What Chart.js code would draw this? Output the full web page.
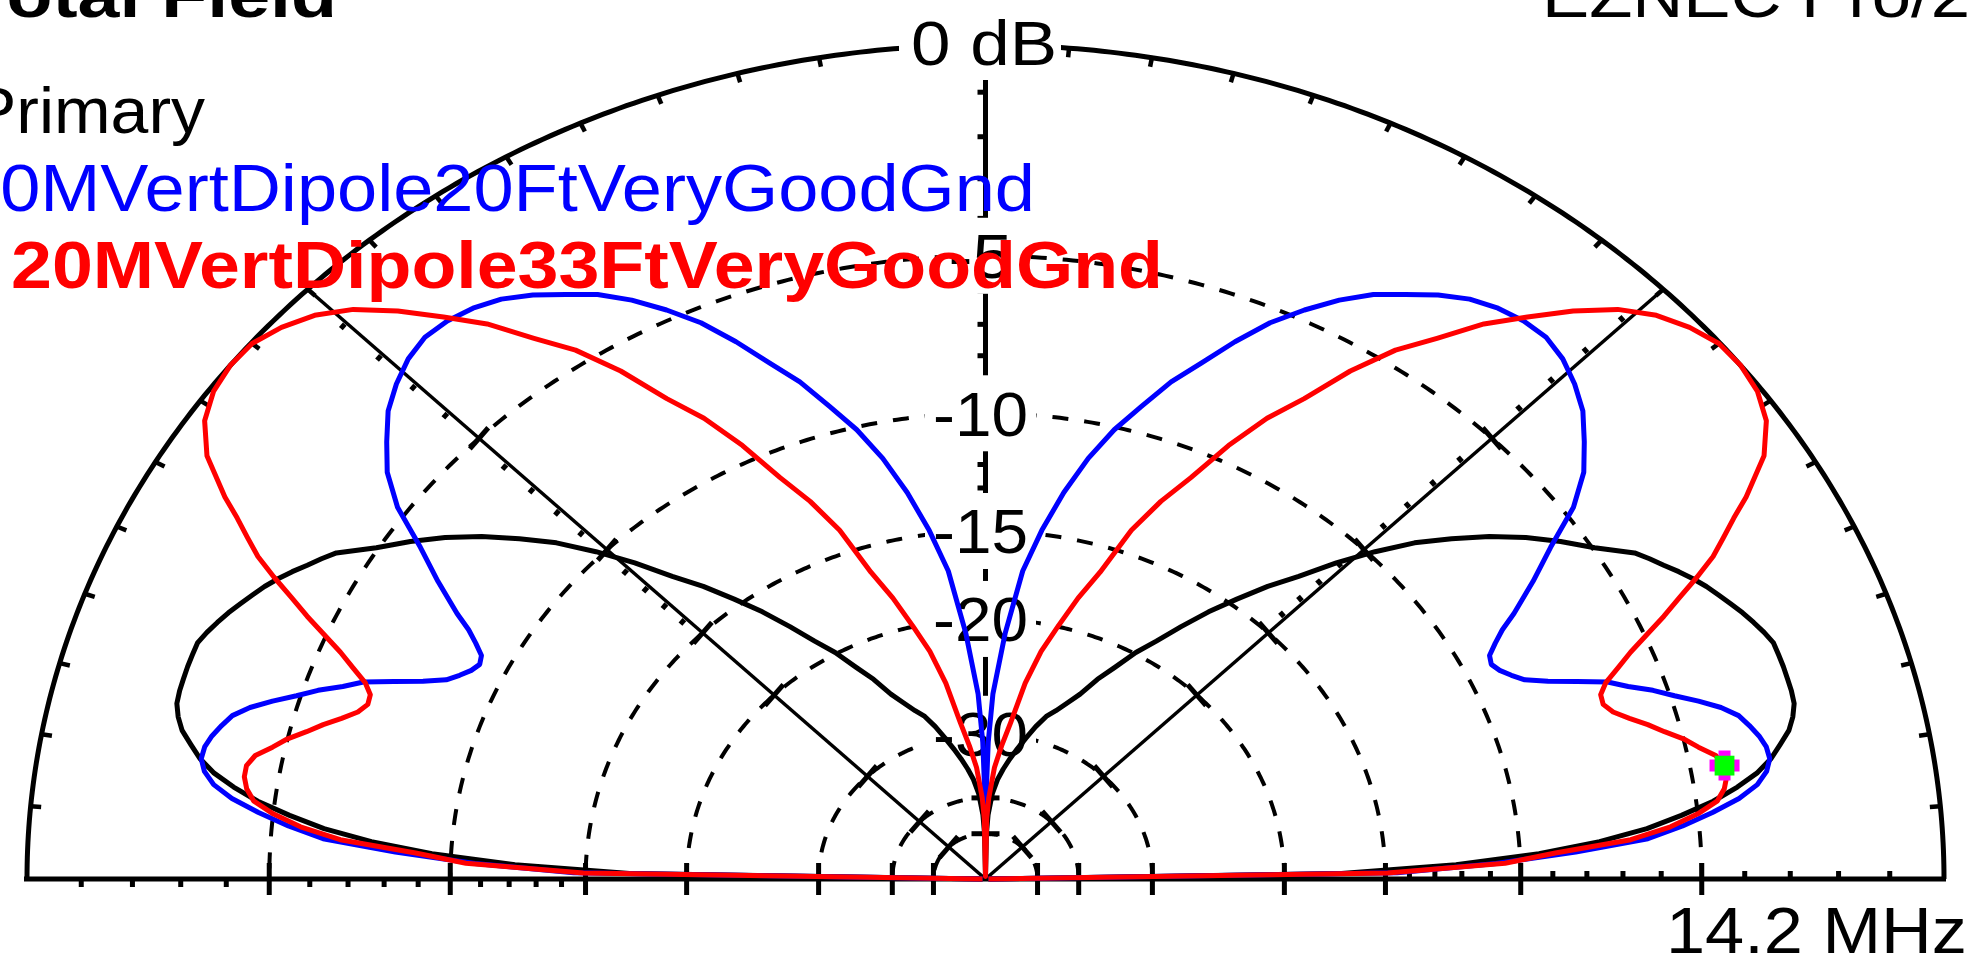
<!DOCTYPE html>
<html>
<head>
<meta charset="utf-8">
<title>Total Field - Elevation Plot</title>
<script src="https://cdn.jsdelivr.net/npm/chart.js@4.4.1/dist/chart.umd.min.js"></script>
<style>
  html, body { margin: 0; padding: 0; background: #ffffff; overflow: hidden; }
  #wrap { position: relative; width: 1971px; height: 970px; }
  canvas { display: block; }
</style>
</head>
<body>
<div id="wrap"><canvas id="plot" width="1971" height="970"></canvas></div>
<script>
// Elevation angles (degrees) at which each pattern is sampled; the far side mirrors them.
const ELEVATION = [0,1,2,3,4,5,6,7,8,9,10,11,12,13,14,15,16,17,18,19,20,21,22,23,24,25,26,27,28,29,30,
  32,34,36,38,40,42,44,46,48,50,52,54,56,58,60,62,64,66,68,70,72,74,76,78,80,82,84,86,88,89,90];

// Primary trace (dB)
const PRIMARY_DB = [-99,-17,-12.2,-9.4,-7.6,-6.3,-5.4,-4.6,-4.0,-3.5,-3.15,-2.9,-2.65,-2.5,-2.4,-2.38,-2.38,-2.38,-2.39,-2.4,-2.5,-2.62,-2.75,-2.9,-3.05,-3.2,-3.38,-3.58,-3.8,-4.0,-4.22,
  -4.95,-5.55,-6.2,-6.95,-7.8,-8.7,-9.8,-11.0,-12.3,-13.4,-14.65,-15.9,-17.3,-18.7,-19.9,-21.4,-22.7,-24.3,-25.4,-26.4,-27.2,-28.5,-30.0,-31.5,-33.0,-34.6,-36.4,-39,-44,
  -50,-99];

// 20MVertDipole20FtVeryGoodGnd (dB)
const VD20_DB = [-99,-14.5,-10.8,-8.3,-6.3,-5.4,-4.65,-4.0,-3.55,-3.3,-3.18,-3.2,-3.3,-3.45,-3.62,-3.95,-4.4,-4.9,-5.35,-5.9,-6.35,-7.1,-7.85,-8.45,-8.75,-9.0,-9.14,-9.05,-8.7,-8.3,-7.75,
  -6.78,-5.85,-4.75,-4.0,-3.5,-3.02,-2.7,-2.45,-2.31,-2.32,-2.42,-2.6,-2.9,-3.27,-3.63,-4.13,-4.73,-5.4,-6.25,-7.18,-8.02,-9.08,-10.1,-11.37,-12.94,-14.8,-17.0,-20.9,-25.8,
  -31,-43];

// 20MVertDipole33FtVeryGoodGnd (dB)
const VD33_DB = [-99,-14.9,-10.5,-8.9,-6.75,-5.7,-5.0,-4.5,-4.3,-4.2,-4.2,-4.35,-4.7,-5.0,-5.4,-5.75,-6.15,-6.5,-6.68,-6.65,-6.4,-5.95,-5.5,-4.95,-4.38,-3.85,-3.28,-2.75,-2.35,-1.95,-1.5,
  -0.74,-0.3,-0.08,0,-0.02,-0.2,-0.47,-0.89,-1.5,-2.2,-2.9,-3.8,-4.6,-5.68,-7.0,-8.05,-9.4,-11.0,-12.3,-13.9,-16.3,-18.0,-20.0,-21.9,-24.6,-28.5,-31.4,-34.5,-40,
  -45,-99];

// Grid rings (dB), labelled rings and per-dB minor ticks
const RING_DB = [-5, -10, -15, -20, -30, -40, -50];
const RING_LABELS = ['-5', '-10', '-15', '-20', '-30'];
const RING_LABEL_DB = [-5, -10, -15, -20, -30];
const MINOR_TICK_DB = [-1,-2,-3,-4,-6,-7,-8,-9,-11,-12,-13,-14];
const OUTER_TICK_STEP = 5;
const CURSOR_ELEV = 10;

const TITLE = 'Total Field';
const PROGRAM = 'EZNEC Pro/2';
const TOP_LABEL = '0 dB';
const FREQ_LABEL = '14.2 MHz';
const LEGEND = ['Primary', '20MVertDipole20FtVeryGoodGnd', '20MVertDipole33FtVeryGoodGnd'];
const COLORS = { primary: '#000000', vd20: '#0000ff', vd33: '#ff0000' };

const FONT = "'Liberation Sans', Arial, sans-serif";

// ARRL log scale: 0.89 per 2 dB
function ringRadius(db) { return Math.pow(0.89, -db / 2); }
function polar(db, deg) {
  const r = ringRadius(db), a = deg * Math.PI / 180;
  return { x: r * Math.cos(a), y: r * Math.sin(a) };
}
function pattern(dbs) {
  const pts = [];
  for (let i = 0; i < ELEVATION.length; i++) pts.push(polar(dbs[i], ELEVATION[i]));
  for (let i = ELEVATION.length - 2; i >= 0; i--) pts.push(polar(dbs[i], 180 - ELEVATION[i]));
  return pts;
}

// Text squeezed/stretched horizontally to a given width
function fitText(c, str, font, color, x, baseline, width, align) {
  c.save();
  c.font = font; c.fillStyle = color; c.textBaseline = 'alphabetic'; c.textAlign = 'left';
  const w = c.measureText(str).width;
  const left = align === 'center' ? x - width / 2 : (align === 'right' ? x - width : x);
  c.translate(left, baseline); c.scale(width / w, 1);
  c.fillText(str, 0, 0);
  c.restore();
}

const gridPlugin = {
  id: 'polarGrid',
  beforeDraw(chart) {
    const c = chart.ctx;
    c.save(); c.fillStyle = '#ffffff'; c.fillRect(0, 0, chart.width, chart.height); c.restore();
  },
  beforeDatasetsDraw(chart) {
    const c = chart.ctx, sx = chart.scales.x, sy = chart.scales.y;
    const P = (r, deg) => {
      const a = deg * Math.PI / 180;
      return [sx.getPixelForValue(r * Math.cos(a)), sy.getPixelForValue(r * Math.sin(a))];
    };
    const arc = (r) => {
      c.beginPath();
      for (let d = 0; d <= 180.001; d += 0.5) {
        const [x, y] = P(r, d);
        if (d === 0) c.moveTo(x, y); else c.lineTo(x, y);
      }
      c.stroke();
    };
    const seg = (x1, y1, x2, y2) => { c.beginPath(); c.moveTo(x1, y1); c.lineTo(x2, y2); c.stroke(); };

    c.save();
    c.strokeStyle = '#000'; c.lineCap = 'butt'; c.lineJoin = 'round';

    // dashed dB rings
    c.lineWidth = 4; c.setLineDash([16, 16]);
    RING_DB.forEach(db => arc(ringRadius(db)));
    c.setLineDash([]);

    // outer 0 dB ring with 5° ticks
    c.lineWidth = 5; arc(1);
    c.lineWidth = 4.5;
    for (let d = OUTER_TICK_STEP; d < 180; d += OUTER_TICK_STEP) {
      if (d === 90) continue;
      const [x1, y1] = P(1, d), [x2, y2] = P(0.989, d);
      seg(x1, y1, x2, y2);
    }

    // radials: 45° / 135° thin, horizon and zenith heavier
    c.lineWidth = 3.5;
    [45, 135].forEach(d => { const [x0, y0] = P(0, d), [x1, y1] = P(1, d); seg(x0, y0, x1, y1); });
    c.lineWidth = 5;
    { const [xa, ya] = P(1, 180), [xb, yb] = P(1, 0); seg(xa - 3, ya, xb + 2, yb); }
    { const [x0, y0] = P(0, 90), [x1, y1] = P(1, 90); seg(x0, y0, x1, y1); }

    // ticks along each radial
    [0, 45, 90, 135, 180].forEach(d => {
      const [x0, y0] = P(0, d), [x1, y1] = P(1, d);
      let dx = x1 - x0, dy = y1 - y0; const len = Math.hypot(dx, dy); dx /= len; dy /= len;
      const nx = dy, ny = -dx; // side normal
      c.lineWidth = 5;
      MINOR_TICK_DB.forEach(db => {
        const [x, y] = P(ringRadius(db), d);
        seg(x + nx * 2, y + ny * 2, x + nx * 8, y + ny * 8);
      });
      RING_DB.forEach(db => {
        const [x, y] = P(ringRadius(db), d);
        const h = (d === 0 || d === 180) ? 16 : 14;
        seg(x - nx * h, y - ny * h, x + nx * h, y + ny * h);
      });
    });

    // ring labels on white patches
    const cx = sx.getPixelForValue(0) - 5;
    RING_LABEL_DB.forEach((db, i) => {
      const y = sy.getPixelForValue(ringRadius(db));
      const txt = RING_LABELS[i];
      const w = txt.length === 2 ? 64 : 95;
      c.fillStyle = '#ffffff';
      c.fillRect(cx - w / 2 - 8, y - 38, w + 16, 76);
      fitText(c, txt, '63px ' + FONT, '#000', cx, y + 22.5, w, 'center');
    });

    // 0 dB label on the outer ring
    c.fillStyle = '#ffffff';
    c.fillRect(899, 8, 162, 72);
    fitText(c, TOP_LABEL, '63px ' + FONT, '#000', 911, 65, 146, 'left');

    c.restore();
  },
  afterDraw(chart) {
    const c = chart.ctx;
    fitText(c, TITLE, 'bold 63px ' + FONT, '#000', -34, 17, 371, 'left');
    fitText(c, PROGRAM, '63px ' + FONT, '#000', 1542, 17, 428, 'left');
    fitText(c, LEGEND[0], '64px ' + FONT, COLORS.primary, -29, 133, 234, 'left');
    fitText(c, LEGEND[1], '66px ' + FONT, COLORS.vd20, -40, 211, 1075, 'left');
    fitText(c, LEGEND[2], 'bold 66px ' + FONT, COLORS.vd33, 11, 288, 1152, 'left');
    fitText(c, FREQ_LABEL, '64px ' + FONT, '#000', 1666, 953, 301, 'left');
  }
};

const cursorPoint = polar(VD33_DB[ELEVATION.indexOf(CURSOR_ELEV)], CURSOR_ELEV);

const lineSet = (label, dbs, color, order) => ({
  label, data: pattern(dbs), showLine: true, borderColor: color, backgroundColor: color,
  borderWidth: 5, pointRadius: 0, pointHoverRadius: 0, tension: 0, clip: false, order,
  borderJoinStyle: 'round'
});

new Chart(document.getElementById('plot').getContext('2d'), {
  type: 'scatter',
  data: {
    datasets: [
      { label: 'cursor', data: [cursorPoint], pointStyle: 'rect', pointRadius: 14, backgroundColor: '#00ff00',
        borderWidth: 0, showLine: false, clip: false, order: 0 },
      { label: 'cursor-frame', data: [cursorPoint], pointStyle: 'cross', pointRadius: 15, borderColor: '#ff00ff',
        borderWidth: 12, showLine: false, clip: false, order: 1 },
      lineSet(LEGEND[2], VD33_DB, COLORS.vd33, 2),
      lineSet(LEGEND[1], VD20_DB, COLORS.vd20, 3),
      lineSet(LEGEND[0], PRIMARY_DB, COLORS.primary, 4)
    ]
  },
  options: {
    responsive: false,
    animation: false,
    devicePixelRatio: 1,
    events: [],
    layout: { padding: { left: 19, right: 17, top: 45, bottom: 91 } },
    scales: {
      x: { type: 'linear', min: -1, max: 1, display: false },
      y: { type: 'linear', min: 0, max: 1, display: false }
    },
    plugins: { legend: { display: false }, tooltip: { enabled: false } }
  },
  plugins: [gridPlugin]
});
</script>
</body>
</html>
